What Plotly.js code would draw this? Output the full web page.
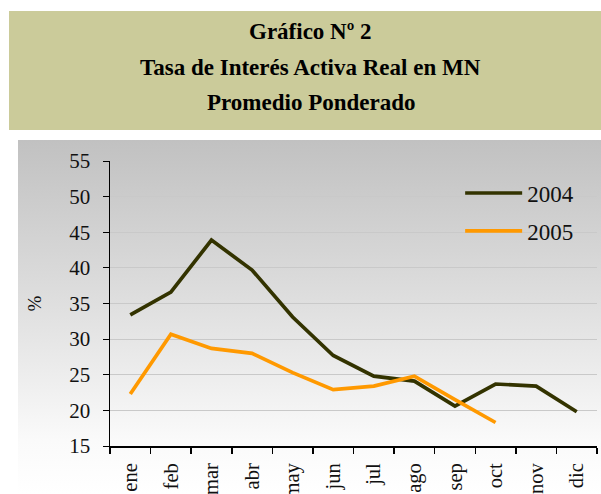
<!DOCTYPE html>
<html>
<head>
<meta charset="utf-8">
<script src="https://cdn.plot.ly/plotly-3.0.1.min.js"></script>
<style>
  html, body { margin: 0; padding: 0; background: #ffffff; }
  #wrap { position: relative; width: 601px; height: 494px; overflow: hidden; background: #ffffff; }
  #grad { position: absolute; left: 18px; top: 140px; width: 583px; height: 354px;
          background: linear-gradient(to bottom, #c1c1c1 0%, #dedede 45%, #fafafa 85%, #ffffff 100%); }
  #chart { position: absolute; left: 0; top: 0; width: 601px; height: 494px; }
</style>
</head>
<body>
<div id="wrap">
  <div id="grad"></div>
  <div id="chart"></div>
</div>
<script>
const months = ["ene", "feb", "mar", "abr", "may", "jun", "jul", "ago", "sep", "oct", "nov", "dic"];
const series2004 = [33.4, 36.6, 43.9, 39.7, 33.1, 27.7, 24.8, 24.1, 20.6, 23.7, 23.4, 19.8];
const series2005 = [22.3, 30.7, 28.7, 28.0, 25.3, 22.9, 23.4, 24.8, 21.5, 18.3];
const months2005 = months.slice(0, series2005.length);
const titleLines = ["Gráfico Nº 2", "Tasa de Interés Activa Real en MN", "Promedio Ponderado"];
const yTicks = [15, 20, 25, 30, 35, 40, 45, 50, 55];

const serif = "Liberation Serif";

const traces = [
  { x: months, y: series2004, type: "scatter", mode: "lines", name: "2004",
    legendgroup: "a", line: { color: "#333300", width: 3.7 } },
  { x: months2005, y: series2005, type: "scatter", mode: "lines", name: "2005",
    legendgroup: "b", line: { color: "#ff9900", width: 3.7 } }
];

const titleY = [1.4543, 1.3298, 1.2052];
const annotations = titleLines.map((t, i) => ({
  text: "<b>" + t + "</b>", xref: "paper", yref: "paper",
  x: 0.412, y: titleY[i], xanchor: "center", yanchor: "middle", showarrow: false,
  font: { family: serif, size: 23, color: "#000000" }
}));

const layout = {
  width: 601, height: 494,
  margin: { l: 110, r: 4, t: 161, b: 48, pad: 0 },
  paper_bgcolor: "rgba(0,0,0,0)",
  plot_bgcolor: "rgba(0,0,0,0)",
  font: { family: serif, color: "#111111" },
  showlegend: true,
  legend: {
    x: 0.719, y: 0.963, xanchor: "left", yanchor: "top",
    bgcolor: "rgba(0,0,0,0)", borderwidth: 0,
    font: { family: serif, size: 23, color: "#111111" },
    traceorder: "grouped", tracegroupgap: 5, itemwidth: 57
  },
  xaxis: {
    type: "category", range: [-0.5, 11.5], tickson: "boundaries",
    ticks: "outside", ticklen: 6, tickwidth: 1.5, tickcolor: "#000000",
    showline: true, linecolor: "#000000", linewidth: 2,
    showgrid: false, tickangle: -90,
    tickfont: { family: serif, size: 20.5, color: "#111111" },
    ticklabelstandoff: 7,
    fixedrange: true
  },
  yaxis: {
    range: [15, 55], tickvals: yTicks, ticktext: yTicks.map(String),
    ticks: "outside", ticklen: 6, tickwidth: 1, tickcolor: "#000000",
    showline: true, linecolor: "#000000", linewidth: 1.5,
    showgrid: true, gridcolor: "#c9c9c9", gridwidth: 1, zeroline: false,
    tickfont: { family: serif, size: 21, color: "#111111" },
    ticklabelstandoff: 8,
    title: { text: "%", font: { family: serif, size: 19, color: "#111111" }, standoff: 22 },
    fixedrange: true
  },
  shapes: [
    { type: "rect", xref: "paper", yref: "paper", layer: "below",
      x0: -0.2074, x1: 1.01, y0: 1.109, y1: 1.526,
      fillcolor: "#cbcb9a", line: { width: 0 } }
  ],
  annotations: annotations
};

Plotly.newPlot("chart", traces, layout, { displayModeBar: false, staticPlot: true });
</script>
</body>
</html>
